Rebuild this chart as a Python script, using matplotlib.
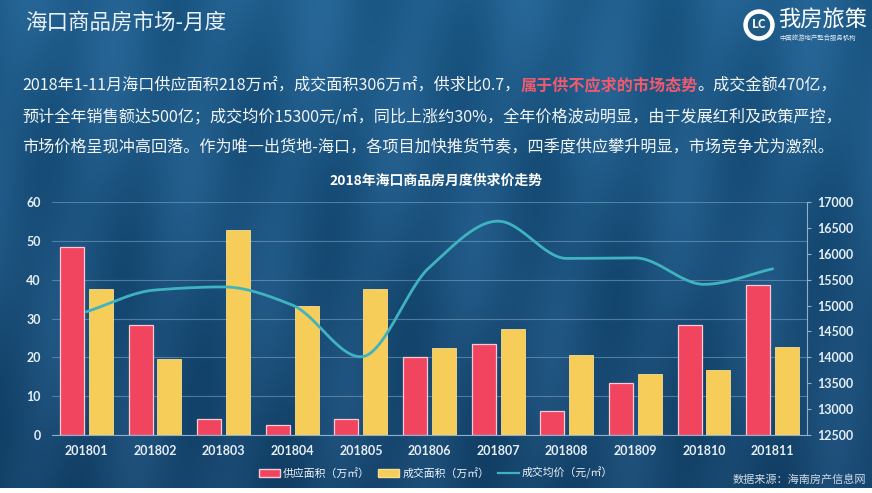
import numpy as np
import matplotlib
matplotlib.use("Agg")
import matplotlib.pyplot as plt
from matplotlib.patches import Patch, Circle
from matplotlib.lines import Line2D

plt.rcParams['font.family'] = ['Noto Sans CJK SC', 'DejaVu Sans']

# ---------------- data ----------------
months = ["201801", "201802", "201803", "201804", "201805", "201806",
          "201807", "201808", "201809", "201810", "201811"]
supply = [48.5, 28.2, 4.0, 2.6, 4.2, 20.0, 23.5, 6.2, 13.4, 28.4, 38.7]
deal = [37.5, 19.6, 52.8, 33.2, 37.6, 22.3, 27.2, 20.5, 15.8, 16.7, 22.7]
price = [14880, 15300, 15360, 15010, 14010, 15740, 16630, 15910, 15920, 15410, 15710]

left_ticks = [0, 10, 20, 30, 40, 50, 60]
right_ticks = [12500, 13000, 13500, 14000, 14500, 15000, 15500, 16000, 16500, 17000]

page_title = "海口商品房市场-月度"
chart_title = "2018年海口商品房月度供求价走势"
legend_labels = ["供应面积（万㎡）", "成交面积（万㎡）", "成交均价（元/㎡）"]
source_text = "数据来源：海南房产信息网"
logo_name = "我房旅策"
logo_sub = "中国旅游地产整合服务机构"
para_lines = [
    [("2018年1-11月海口供应面积218万㎡，成交面积306万㎡，供求比0.7，", "w"),
     ("属于供不应求的市场态势", "r"), ("。成交金额470亿，", "w")],
    [("预计全年销售额达500亿；成交均价15300元/㎡，同比上涨约30%，全年价格波动明显，由于发展红利及政策严控，", "w")],
    [("市场价格呈现冲高回落。作为唯一出货地-海口，各项目加快推货节奏，四季度供应攀升明显，市场竞争尤为激烈。", "w")],
]

RED = "#f0445f"
YELLOW = "#f6cd58"
TEAL = "#3fb3c0"
W, H = 872, 493

fig = plt.figure(figsize=(W / 100, H / 100), dpi=100)
fig.patch.set_facecolor("white")

# background
bg = fig.add_axes([0, 5 / H, 1, 1 - 5 / H])
bg.set_axis_off()
yy, xx = np.mgrid[0:1:200j, 0:1:400j]
base_top = np.array([0x20, 0x5e, 0x8d]) / 255
base_bot = np.array([0x17, 0x46, 0x6e]) / 255
t = yy[..., None]
img = base_top * (1 - t) + base_bot * t
streak = 0.025 * np.sin(xx * 55 + yy * 6)[..., None] + 0.02 * np.sin(xx * 23 - yy * 9)[..., None]
img = np.clip(img + streak * np.array([0.6, 0.8, 1.0]), 0, 1)
bg.imshow(img, aspect="auto", extent=[0, 1, 0, 1], origin="upper")
bg.set_xlim(0, 1)
bg.set_ylim(0, 1)

# page title
fig.text(25 / W, 1 - 23 / H, page_title, color="#e9f1f8", fontsize=15.5,
         va="center", ha="left")

# logo
la = fig.add_axes([742 / W, 1 - 46 / H, 128 / W, 42 / H])
la.set_axis_off()
la.set_xlim(0, 128)
la.set_ylim(0, 42)
la.set_aspect("equal")
la.add_patch(Circle((17, 21), 15, color="white"))
la.add_patch(Circle((17, 21), 10.5, color="#1f5a85"))
la.text(17, 21, "LC", color="white", fontsize=8.5, ha="center", va="center", fontweight="bold")
la.text(36, 27, logo_name, color="white", fontsize=16, ha="left", va="center")
la.text(37, 8, logo_sub, color="#dfe8f0", fontsize=4.6, ha="left", va="center")

# paragraph
renderer = fig.canvas.get_renderer()
ys = [85, 117, 147]
for line, yp in zip(para_lines, ys):
    xp = 22
    for seg, c in line:
        col = "#f2f5f8" if c == "w" else "#f05a6e"
        tx = fig.text(xp / W, 1 - yp / H, seg, color=col, fontsize=11.6,
                      va="center", ha="left",
                      fontweight="bold" if c == "r" else "normal")
        bb = tx.get_window_extent(renderer)
        xp += bb.width

fig.text(436 / W, 1 - 181 / H, chart_title, color="white", fontsize=10,
         fontweight="bold", ha="center", va="center")

# main chart
ax = fig.add_axes([52 / W, 1 - 435 / H, (807 - 52) / W, (435 - 202) / H])
ax.set_facecolor("none")
x = np.arange(len(months))
bw = 0.35
ax.bar(x - 0.21, supply, bw, color=RED, edgecolor="#f8c9d2", linewidth=0.9, zorder=3)
ax.bar(x + 0.21, deal, bw, color=YELLOW, edgecolor="#f8dd8c", linewidth=0.6, zorder=3)
ax.set_xlim(-0.5, len(months) - 0.5)
ax.set_ylim(0, 60)
ax.set_yticks(left_ticks)
ax.set_xticks(x)
ax.set_xticklabels(months)
ax.grid(axis="y", color="#7fa6c6", linewidth=0.8, alpha=0.55, zorder=0)
for s in ["top", "right", "left"]:
    ax.spines[s].set_visible(False)
ax.spines["bottom"].set_color("#8fb0cc")
ax.tick_params(axis="x", length=0, pad=7, colors="#e6eef5")
ax.tick_params(axis="y", length=0, pad=8, colors="#e6eef5")
for lab in ax.get_xticklabels() + ax.get_yticklabels():
    lab.set_family(["Lato", "DejaVu Sans"])
    lab.set_fontweight("bold")
    lab.set_fontsize(9)

ax2 = ax.twinx()
ax2.set_ylim(12500, 17000)
ax2.set_yticks(right_ticks)
for s in ["top", "left", "bottom"]:
    ax2.spines[s].set_visible(False)
ax2.spines["right"].set_color("#8fb0cc")
ax2.tick_params(axis="y", length=3, pad=4, colors="#e6eef5", color="#8fb0cc")
for lab in ax2.get_yticklabels():
    lab.set_family(["Lato", "DejaVu Sans"])
    lab.set_fontweight("bold")
    lab.set_fontsize(9)


# smooth curve through the price points (monotone cubic Hermite)
def monotone_curve(xs, ys, n=30):
    xs = np.asarray(xs, float)
    ys = np.asarray(ys, float)
    h = np.diff(xs)
    d = np.diff(ys) / h
    m = np.zeros_like(ys)
    m[0], m[-1] = d[0], d[-1]
    for i in range(1, len(ys) - 1):
        if d[i - 1] * d[i] <= 0:
            m[i] = 0
        else:
            m[i] = 2 / (1 / d[i - 1] + 1 / d[i])
    X, Y = [], []
    for i in range(len(xs) - 1):
        tt = np.linspace(0, 1, n)
        h00 = 2 * tt**3 - 3 * tt**2 + 1
        h10 = tt**3 - 2 * tt**2 + tt
        h01 = -2 * tt**3 + 3 * tt**2
        h11 = tt**3 - tt**2
        X.append(xs[i] + tt * h[i])
        Y.append(h00 * ys[i] + h10 * h[i] * m[i] + h01 * ys[i + 1] + h11 * h[i] * m[i + 1])
    return np.concatenate(X), np.concatenate(Y)


cx, cy = monotone_curve(x, price)
ax2.plot(cx, cy, color=TEAL, linewidth=2, zorder=5, solid_capstyle="round")

# legend
handles = [Patch(facecolor=RED, edgecolor="#f8c9d2"),
           Patch(facecolor=YELLOW, edgecolor="#f8dd8c"),
           Line2D([0], [0], color=TEAL, linewidth=1.6)]
leg = fig.legend(handles, legend_labels, loc="center", ncol=3,
                 bbox_to_anchor=(436 / W, 1 - 473 / H), frameon=False,
                 fontsize=7.8, handlelength=1.9, handleheight=0.75,
                 handletextpad=0.3, columnspacing=0.8, labelcolor="#eef3f8")

fig.text(866 / W, 1 - 480 / H, source_text, color="#cfdbe6", fontsize=8,
         ha="right", va="center")

fig.savefig("out.png", dpi=100, facecolor=fig.get_facecolor())
